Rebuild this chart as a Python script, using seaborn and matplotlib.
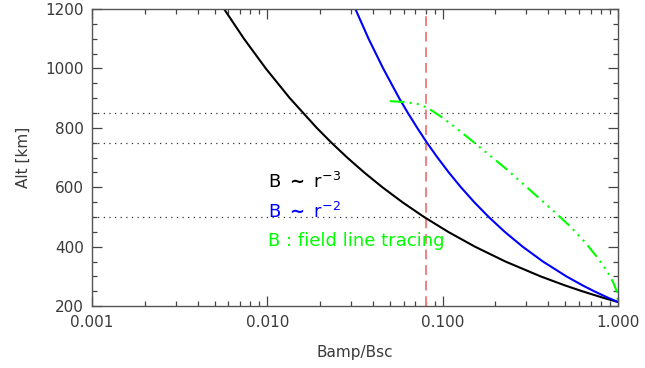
#!/usr/bin/env python3
# coding: utf-8
import numpy as np
import pandas as pd
import seaborn as sns
import matplotlib.pyplot as plt

# ------------------------------------------------
# Data (altitude in km vs Bamp/Bsc)
# ------------------------------------------------
r3_alt = [1200, 1100, 1000, 900, 800, 750, 700, 650, 600, 550, 500, 450,
          400, 350, 300, 270, 250, 230, 214]
r3_ratio = [0.00567, 0.00736, 0.0098, 0.01344, 0.01914, 0.02323, 0.02857,
            0.03569, 0.04537, 0.05891, 0.0784, 0.1076, 0.1531, 0.2286,
            0.363, 0.498, 0.627, 0.805, 1.0]

r2_alt = [1200, 1100, 1000, 900, 850, 800, 750, 700, 650, 600, 550, 500,
          450, 400, 350, 300, 270, 250, 230, 214]
r2_ratio = [0.0318, 0.0378, 0.0458, 0.0565, 0.0634, 0.0716, 0.0814, 0.0935,
            0.1084, 0.1272, 0.1514, 0.1832, 0.2262, 0.2862, 0.3738, 0.5088,
            0.6282, 0.7327, 0.8657, 1.0]

fl_alt = [890, 887, 880, 867, 840, 803, 762, 715, 665, 621, 570, 516, 469,
          415, 365, 318, 281, 247, 214]
fl_ratio = [0.050, 0.0609, 0.0723, 0.0824, 0.0966, 0.1175, 0.1432, 0.179,
            0.227, 0.276, 0.345, 0.437, 0.533, 0.649, 0.760, 0.867, 0.938,
            0.989, 1.0]

ref_alts = [500, 750, 850]
ref_ratio = 0.08

labels = [r'B $\mathbf{\sim}$ r$^{-3}$', r'B $\mathbf{\sim}$ r$^{-2}$',
          'B : field line tracing']
label_alts = [617, 516, 421]
colors = ['black', '#0000ff', '#00ff00']

df = pd.concat([
    pd.DataFrame({'ratio': r3_ratio, 'alt': r3_alt, 'model': 'r3'}),
    pd.DataFrame({'ratio': r2_ratio, 'alt': r2_alt, 'model': 'r2'}),
    pd.DataFrame({'ratio': fl_ratio, 'alt': fl_alt, 'model': 'fl'}),
])

# ------------------------------------------------
# Plot
# ------------------------------------------------
sns.set_style("ticks")
plt.rcParams['font.family'] = ['DejaVu Sans']
plt.rcParams['mathtext.fontset'] = 'dejavusans'

fig = plt.figure(figsize=(6.45, 3.68), dpi=100)
ax = fig.add_axes([0.1426, 0.168, 0.8155, 0.8075])

for a in ref_alts:
    ax.axhline(a, color='#333333', linestyle=(0, (1, 3.5)), linewidth=0.9)
ax.axvline(ref_ratio, color='#f08080', linestyle=(0, (5, 3)), linewidth=1.4)

sns.lineplot(data=df[df.model == 'r3'], x='ratio', y='alt', color='black',
             linewidth=1.5, sort=False, ax=ax)
sns.lineplot(data=df[df.model == 'r2'], x='ratio', y='alt', color='#0000ff',
             linewidth=1.5, sort=False, ax=ax)
sns.lineplot(data=df[df.model == 'fl'], x='ratio', y='alt', color='#00ff00',
             linewidth=1.5, sort=False, ax=ax,
             linestyle=(0, (7, 2.5, 1, 2.5, 1, 2.5, 1, 2.5)))

ax.set_xscale('log')
ax.set_xlim(0.001, 1.0)
ax.set_ylim(200, 1200)
ax.set_xticks([0.001, 0.01, 0.1, 1.0])
ax.set_xticklabels(['0.001', '0.010', '0.100', '1.000'])
ax.set_yticks([200, 400, 600, 800, 1000, 1200])
ax.set_yticks(np.arange(200, 1201, 50), minor=True)
ax.tick_params(which='both', direction='in', top=True, right=True,
               colors='#444444', labelcolor='#3a3a3a', labelsize=11, pad=6)
ax.tick_params(which='major', length=7, width=0.9)
ax.tick_params(which='minor', length=3.5, width=0.9)
for s in ax.spines.values():
    s.set_color('#555555')
    s.set_linewidth(1.0)

ax.set_xlabel('Bamp/Bsc', fontsize=11, color='#3a3a3a', labelpad=11)
ax.set_ylabel('Alt [km]', fontsize=11, color='#3a3a3a', labelpad=10)

for lab, y, c in zip(labels, label_alts, colors):
    ax.text(0.0101, y, lab, color=c, fontsize=13, va='center')

plt.savefig('out.png', dpi=100)
plt.close(fig)
